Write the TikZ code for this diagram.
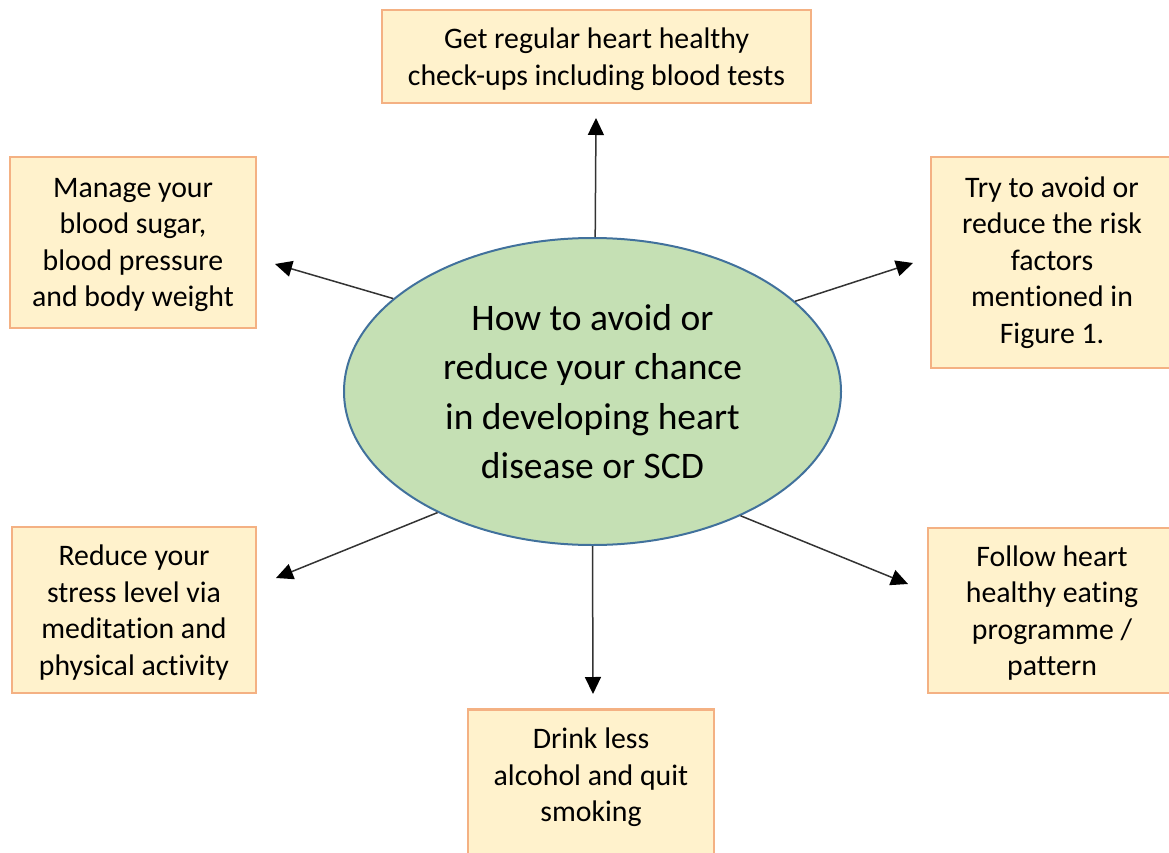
\documentclass[tikz,border=0pt]{standalone}
\usepackage{fontspec}
\setmainfont{Carlito}[Ligatures=NoCommon]
\usetikzlibrary{arrows.meta,shapes.geometric}
\definecolor{boxfill}{HTML}{FFF2CC}
\definecolor{boxline}{HTML}{F4B183}
\definecolor{ellfill}{HTML}{C5E0B4}
\definecolor{ellline}{HTML}{41719C}
\tikzset{
  infobox/.style={draw=boxline, fill=boxfill, line width=2.6pt, inner sep=0pt,
    align=center, font=\fontsize{29.8}{36.5}\selectfont},
  hub/.style={ellipse, draw=ellline, fill=ellfill, line width=2pt, inner sep=0pt,
    minimum width=497pt, minimum height=307pt, align=center,
    font=\fontsize{37.5}{49.5}\selectfont},
  conn/.style={draw=black!80, line width=1.5pt,
    -{Triangle[length=17pt,width=16pt,color=black]}},
}
\begin{document}
\begin{tikzpicture}[x=1pt,y=-1pt]
\useasboundingbox (0,0) rectangle (1169,853);
\clip (0,0) rectangle (1169,853);
% boxes
\node[infobox, minimum width=429pt, minimum height=93pt] (top) at (596.5,56.5)
  {\rule{0pt}{26pt}Get regular heart healthy\\check-ups including blood tests};
\node[infobox, minimum width=246pt, minimum height=171pt] (lt) at (133,242.5)
  {\rule{0pt}{24pt}Manage your\\blood sugar,\\blood pressure\\and body weight};
\node[infobox, minimum width=242pt, minimum height=211pt] (rt) at (1052,262.5)
  {Try to avoid or\\reduce the risk\\factors\\mentioned in\\Figure 1.};
\node[infobox, minimum width=244pt, minimum height=166pt] (lb) at (134,610)
  {\rule{0pt}{26pt}Reduce your\\stress level via\\meditation and\\physical activity};
\node[infobox, minimum width=248pt, minimum height=165pt] (rb) at (1052,610.5)
  {\rule{0pt}{26pt}Follow heart\\healthy eating\\programme /\\pattern};
\node[infobox, anchor=north] (bt) at (591,708)
  {\parbox[t][190pt][t]{246pt}{\centering\vspace*{19pt}Drink less\\alcohol and quit\\smoking}};
% hub
\node[hub] (e) at (592.5,391.5)
  {How to avoid or\\reduce your chance\\in developing heart\\disease or SCD};
% arrow tips
\coordinate (ttop) at (596,118);
\coordinate (tlt) at (275,264);
\coordinate (trt) at (913,263);
\coordinate (tlb) at (276,578);
\coordinate (trb) at (908,584);
\coordinate (tbt) at (593,694);
\draw[conn] (e.89) -- (ttop);
\draw[conn] (e.155) -- (tlt);
\draw[conn] (e.24.9) -- (trt);
\draw[conn] (e.218) -- (tlb);
\draw[conn] (e.320.8) -- (trb);
\draw[conn] (e.270) -- (tbt);
\end{tikzpicture}
\end{document}
